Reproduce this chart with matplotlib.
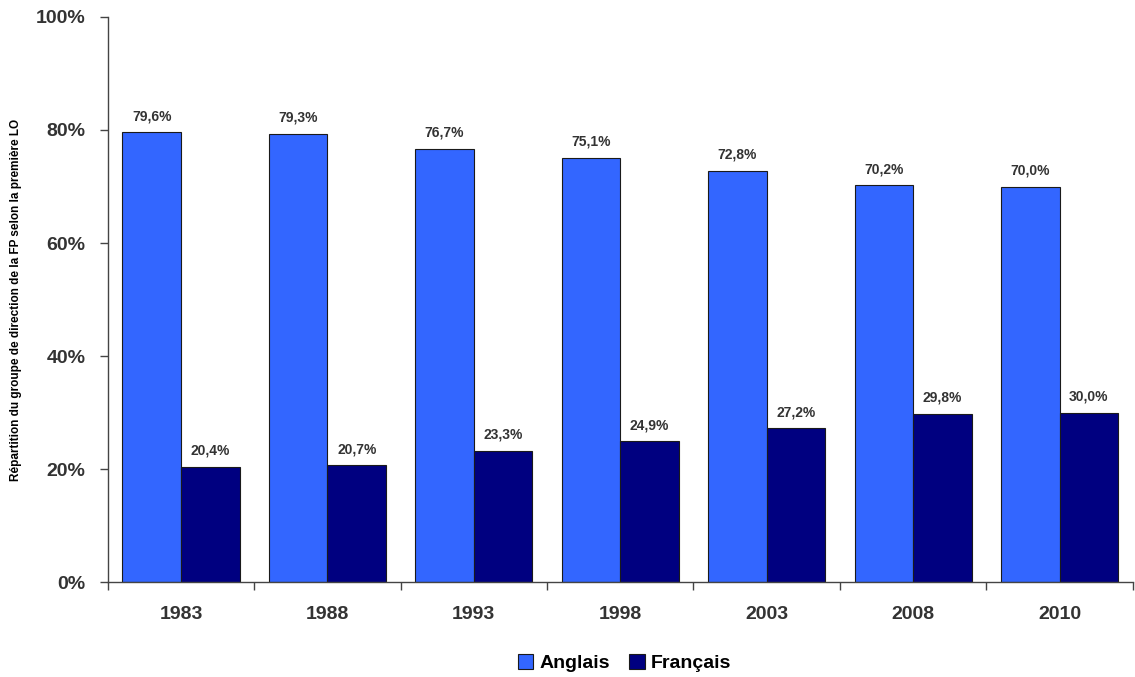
import matplotlib

matplotlib.use("Agg")

import matplotlib.pyplot as plt
import numpy as np
from matplotlib.ticker import FuncFormatter

years = ["1983", "1988", "1993", "1998", "2003", "2008", "2010"]
anglais = [79.6, 79.3, 76.7, 75.1, 72.8, 70.2, 70.0]
francais = [20.4, 20.7, 23.3, 24.9, 27.2, 29.8, 30.0]
series_names = ["Anglais", "Français"]

plt.rcParams["font.family"] = ["Liberation Sans", "DejaVu Sans"]

fig = plt.figure(figsize=(11.35, 6.77), dpi=100)
ax = fig.add_axes([0.095, 0.14, 0.903, 0.835])

x = np.arange(len(years))
width = 0.4
bars_a = ax.bar(x - width / 2, anglais, width, color="#3366ff",
                edgecolor="#1a1a1a", linewidth=0.8, label=series_names[0])
bars_f = ax.bar(x + width / 2, francais, width, color="#000080",
                edgecolor="#1a1a1a", linewidth=0.8, label=series_names[1])


def fr_pct(v):
    return f"{v:.1f}%".replace(".", ",")


for bars, values in ((bars_a, anglais), (bars_f, francais)):
    for bar, v in zip(bars, values):
        ax.text(bar.get_x() + bar.get_width() / 2, v + 1.6, fr_pct(v),
                ha="center", va="bottom", fontsize=10, fontweight="bold",
                color="#333333")

ax.set_xlim(-0.5, len(years) - 0.5)
ax.set_ylim(0, 100)
ax.set_yticks(np.arange(0, 101, 20))
ax.yaxis.set_major_formatter(FuncFormatter(lambda v, _: f"{v:.0f}%"))

# Years are labelled at group centres, ticks sit at group boundaries
ax.set_xticks(x)
ax.set_xticklabels(years)
ax.set_xticks(np.arange(-0.5, len(years)), minor=True)
ax.tick_params(axis="x", which="major", length=0, pad=17, labelsize=14)
ax.tick_params(axis="x", which="minor", length=6, width=1, color="#444444")
ax.tick_params(axis="y", length=6, width=1, color="#444444", labelsize=14,
               pad=10)
for lbl in ax.get_xticklabels() + ax.get_yticklabels():
    lbl.set_fontweight("bold")
    lbl.set_color("#333333")

for side in ("top", "right"):
    ax.spines[side].set_visible(False)
for side in ("left", "bottom"):
    ax.spines[side].set_color("#444444")
    ax.spines[side].set_linewidth(1)

ax.set_ylabel("Répartition du groupe de direction de la FP selon la première LO",
              fontsize=8.5, fontweight="bold", labelpad=10)

fig.legend(handles=[bars_a, bars_f], loc="center", bbox_to_anchor=(0.55, 0.021),
           ncol=2, frameon=False, prop={"weight": "bold", "size": 14},
           handlelength=0.8, handleheight=0.8, handletextpad=0.3,
           columnspacing=1.0)

fig.savefig("out.png", dpi=100)
